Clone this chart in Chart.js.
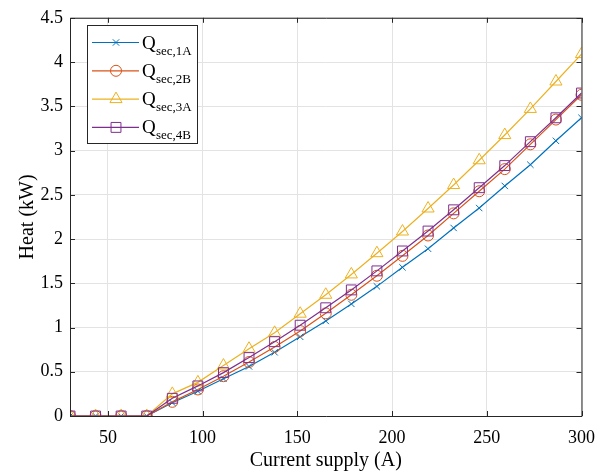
<!DOCTYPE html>
<html>
<head>
<meta charset="utf-8">
<script src="https://cdn.jsdelivr.net/npm/chart.js@4"></script>
<style>
  body { margin: 0; background: #fff; }
  #grafica { width: 606px; height: 472px; }
</style>
</head>
<body>
<div id="grafica"><canvas id="calor" width="606" height="472"></canvas></div>
<script>
// Datos
const corriente = [30, 43.5, 57, 70.5, 84, 97.5, 111, 124.5, 138, 151.5, 165, 178.5, 192, 205.5, 219, 232.5, 246, 259.5, 273, 286.5, 300];
const qSec1A = [0, 0, 0, 0, 0.15, 0.28, 0.42, 0.56, 0.72, 0.895, 1.074, 1.267, 1.465, 1.68, 1.89, 2.125, 2.35, 2.60, 2.84, 3.11, 3.37];
const qSec2B = [0, 0, 0, 0, 0.16, 0.30, 0.45, 0.61, 0.78, 0.96, 1.16, 1.37, 1.585, 1.81, 2.04, 2.29, 2.54, 2.79, 3.07, 3.35, 3.63];
const qSec3A = [0, 0, 0, 0, 0.25, 0.38, 0.57, 0.76, 0.94, 1.156, 1.37, 1.60, 1.84, 2.085, 2.345, 2.61, 2.89, 3.175, 3.47, 3.78, 4.09];
const qSec4B = [0, 0, 0, 0, 0.20, 0.34, 0.49, 0.66, 0.84, 1.026, 1.223, 1.425, 1.64, 1.865, 2.09, 2.33, 2.58, 2.83, 3.10, 3.37, 3.65];

const etiquetas = ['sec,1A', 'sec,2B', 'sec,3A', 'sec,4B'];
const ticksX = [50, 100, 150, 200, 250, 300];
const ticksY = [0, 0.5, 1, 1.5, 2, 2.5, 3, 3.5, 4, 4.5];

const fuente = '"Liberation Serif", "Times New Roman", serif';

function serie(valores, etiqueta, color, estilo, radio, orden) {
    return {
        label: 'Q' + etiqueta,
        sub: etiqueta,
        data: valores.map((v, i) => ({ x: corriente[i], y: v })),
        borderColor: color,
        backgroundColor: color,
        borderWidth: 1.2,
        pointStyle: estilo,
        pointRadius: radio,
        pointBorderColor: color,
        pointBackgroundColor: 'rgba(0, 0, 0, 0)',
        pointBorderWidth: 1,
        tension: 0,
        order: orden
    };
}

//Ticks hacia adentro y caja completa como en MATLAB
const cajaEjes = {
    id: 'cajaEjes',
    afterDatasetsDraw(chart) {
        const { ctx, chartArea: a, scales } = chart;
        ctx.save();
        ctx.strokeStyle = '#262626';
        ctx.lineWidth = 1;
        ctx.beginPath();
        ctx.rect(a.left + 0.5, a.top + 0.5, a.right - a.left, a.bottom - a.top);
        ctx.stroke();
        ctx.beginPath();
        ticksX.forEach(v => {
            const x = Math.round(scales.x.getPixelForValue(v)) + 0.5;
            ctx.moveTo(x, a.bottom); ctx.lineTo(x, a.bottom - 5);
            ctx.moveTo(x, a.top); ctx.lineTo(x, a.top + 5);
        });
        ticksY.forEach(v => {
            const y = Math.round(scales.y.getPixelForValue(v)) + 0.5;
            ctx.moveTo(a.left, y); ctx.lineTo(a.left + 5, y);
            ctx.moveTo(a.right, y); ctx.lineTo(a.right - 5, y);
        });
        ctx.stroke();
        ctx.restore();
    }
};

//Leyenda con subindices
const leyenda = {
    id: 'leyenda',
    afterDraw(chart) {
        const ctx = chart.ctx;
        const x0 = 87, y0 = 25, ancho = 110, alto = 118;
        ctx.save();
        ctx.fillStyle = '#fff';
        ctx.fillRect(x0, y0, ancho, alto);
        ctx.strokeStyle = '#262626';
        ctx.lineWidth = 1;
        ctx.strokeRect(x0 + 0.5, y0 + 0.5, ancho, alto);
        chart.data.datasets.forEach((ds, i) => {
            const y = 42.5 + i * 28.3;
            ctx.strokeStyle = ds.borderColor;
            ctx.lineWidth = 1.2;
            ctx.beginPath();
            ctx.moveTo(92, y);
            ctx.lineTo(139, y);
            ctx.stroke();
            ctx.fillStyle = 'rgba(0, 0, 0, 0)';
            ctx.lineWidth = 1;
            Chart.helpers.drawPoint(ctx, { pointStyle: ds.pointStyle, radius: ds.pointRadius, borderWidth: 1, rotation: 0 }, 116, y);
            ctx.fillStyle = '#000';
            ctx.textBaseline = 'alphabetic';
            ctx.font = '19px ' + fuente;
            ctx.fillText('Q', 142, y + 6);
            ctx.font = '13px ' + fuente;
            ctx.fillText(ds.sub, 156, y + 12);
        });
        ctx.restore();
    }
};

const ctx = document.getElementById('calor').getContext('2d');
let myChart = new Chart(ctx, {
    type: 'line',
    data: {
        datasets: [
            serie(qSec1A, etiquetas[0], '#0072BD', 'crossRot', 4.5, 4),
            serie(qSec2B, etiquetas[1], '#D95319', 'circle', 5.5, 3),
            serie(qSec3A, etiquetas[2], '#EDB120', 'triangle', 7, 2),
            serie(qSec4B, etiquetas[3], '#7E2F8E', 'rect', 7, 1)
        ]
    },
    options: {
        responsive: false,
        animation: false,
        layout: { padding: { left: 0, top: 14, right: 24, bottom: 0 } },
        plugins: {
            legend: { display: false },
            tooltip: { enabled: false }
        },
        scales: {
            x: {
                type: 'linear',
                min: 30,
                max: 300,
                afterBuildTicks: scale => { scale.ticks = ticksX.map(v => ({ value: v })); },
                afterFit: scale => { scale.height = 56; },
                grid: { color: '#e3e3e3', drawTicks: false },
                border: { display: false },
                ticks: { color: '#000', padding: 11, font: { family: fuente, size: 18 } },
                title: { display: true, text: 'Current supply (A)', color: '#000', padding: { top: 0, bottom: -1 }, font: { family: fuente, size: 20 } }
            },
            y: {
                min: 0,
                max: 4.5,
                afterBuildTicks: scale => { scale.ticks = ticksY.map(v => ({ value: v })); },
                afterFit: scale => { scale.width = 70; },
                grid: { color: '#e3e3e3', drawTicks: false },
                border: { display: false },
                ticks: { color: '#000', padding: 7, font: { family: fuente, size: 18 }, callback: v => String(v) },
                title: { display: true, text: 'Heat (kW)', color: '#000', padding: { top: 16, bottom: 0 }, font: { family: fuente, size: 20 } }
            }
        }
    },
    plugins: [cajaEjes, leyenda]
});
</script>
</body>
</html>
